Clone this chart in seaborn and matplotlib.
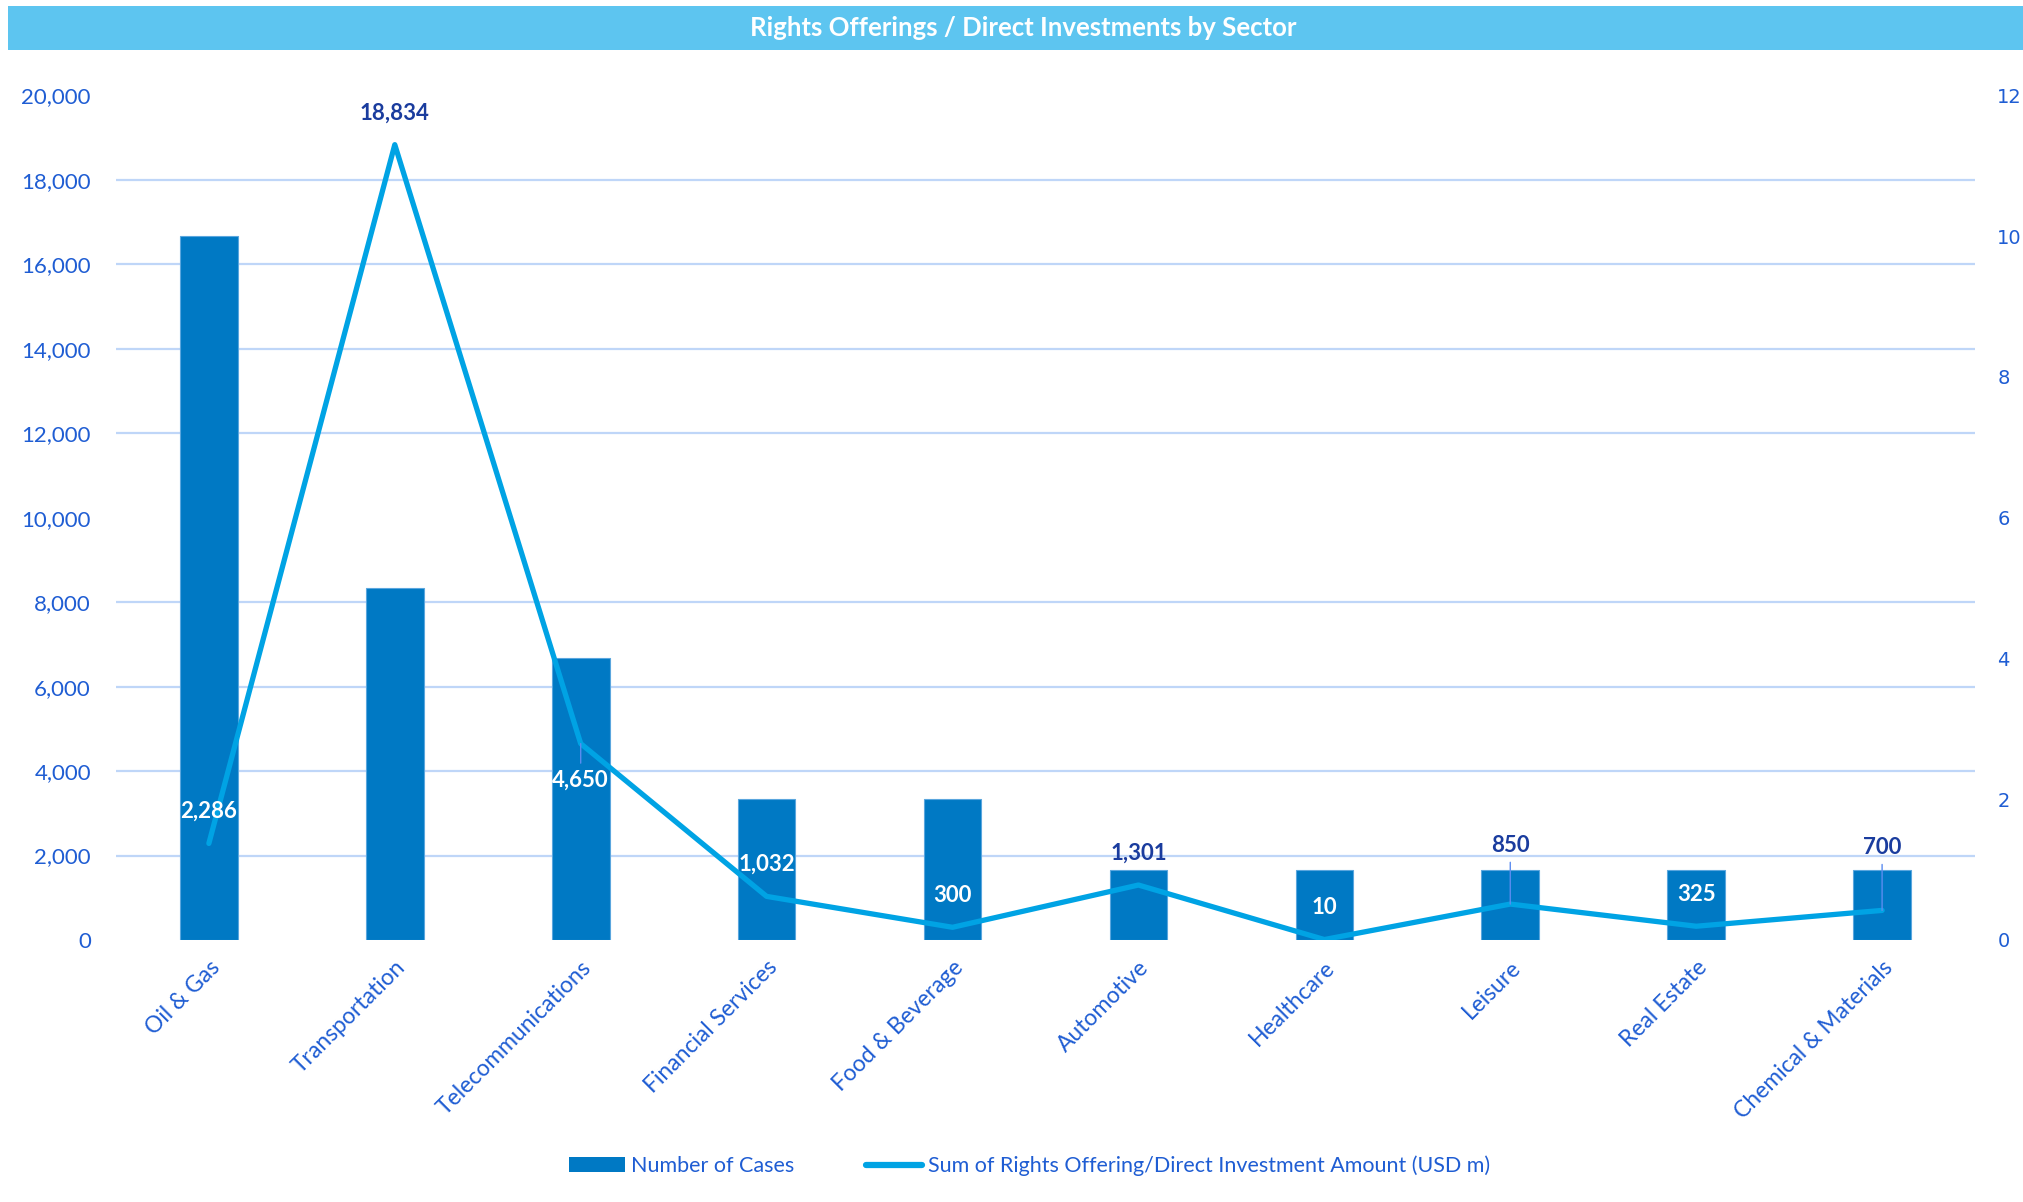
import numpy as np
import pandas as pd
import matplotlib
matplotlib.use("Agg")
import matplotlib.pyplot as plt
from matplotlib.patches import Rectangle, Patch
from matplotlib.lines import Line2D
import seaborn as sns

# ---- data -------------------------------------------------------------
sectors = ["Oil & Gas", "Transportation", "Telecommunications", "Financial Services",
           "Food & Beverage", "Automotive", "Healthcare", "Leisure", "Real Estate",
           "Chemical & Materials"]
num_cases = [10, 5, 4, 2, 2, 1, 1, 1, 1, 1]
amount_usd_m = [2286, 18834, 4650, 1032, 300, 1301, 10, 850, 325, 700]

title = "Rights Offerings / Direct Investments by Sector"
bar_label = "Number of Cases"
line_label = "Sum of Rights Offering/Direct Investment Amount (USD m)"

# ---- style ------------------------------------------------------------
BAR = "#0079C4"
LINE = "#00A3E4"
TXT = "#1F5DD3"
DARK = "#1A3C9E"
GRID = "#BFD6F8"
HEADER = "#5DC5F0"
FONT = ["Lato", "DejaVu Sans"]

sns.set_theme(style="white")
plt.rcParams["font.family"] = FONT

df = pd.DataFrame({"sector": sectors, "cases": num_cases, "amount": amount_usd_m})
pos = np.arange(len(sectors))

fig = plt.figure(figsize=(20.23, 12.02), dpi=100)
ax = fig.add_axes([0.0573, 0.218, 0.9190, 0.7026])

# bars (number of cases) on the secondary scale 0-12, shown on the right
sns.barplot(data=df, x="sector", y="cases", ax=ax, color=BAR, saturation=1,
            width=0.31, edgecolor="#5AA6DE", linewidth=0.8, zorder=3)
ax.set_ylim(0, 12)
ax.set_xlim(-0.5, len(sectors) - 0.5)
ax.set_xlabel("")
ax.set_ylabel("")
ax.set_xticks(pos)
ax.set_xticklabels(sectors, rotation=45, ha="right", rotation_mode="anchor",
                   fontsize=16.5, color=TXT)
ax.tick_params(axis="x", length=0, pad=12)
for s in ax.spines.values():
    s.set_visible(False)

# line (amount) on the primary scale 0-20,000, shown on the left
ax2 = ax.twinx()
sns.lineplot(x=pos, y=amount_usd_m, ax=ax2, color=LINE, linewidth=3.8,
             solid_joinstyle="round", solid_capstyle="round", zorder=4)
ax2.set_ylim(0, 20000)
ax2.set_yticks(np.arange(0, 20001, 2000))
ax2.yaxis.tick_left()
ax2.yaxis.set_major_formatter(matplotlib.ticker.FuncFormatter(lambda v, p: f"{v:,.0f}"))
ax2.tick_params(axis="y", length=0, labelsize=16, labelcolor=TXT, pad=18)
ax2.grid(False)
ax2.set_ylabel("")
for s in ax2.spines.values():
    s.set_visible(False)

# right-hand scale for the bars
ax.yaxis.tick_right()
ax.yaxis.set_label_position("right")
ax.set_yticks(np.arange(0, 12.1, 2))
ax.set_yticks(np.arange(0, 12.01, 1.2), minor=True)
ax.grid(False)
ax.grid(which="minor", axis="y", color=GRID, linewidth=1.6)
ax.set_axisbelow(True)
ax.tick_params(axis="y", which="both", length=0, labelsize=14, labelcolor=TXT, pad=16,
               left=False, labelleft=False, right=False, labelright=True)
for t in ax.get_yticklabels():
    t.set_family(["DejaVu Sans"])

# value labels
label_offsets = [23, 23, -26, 23, 23, 23, 23, 42, 23, 45]
label_colors = ["white", DARK, "white", "white", "white", DARK, "white", DARK, "white", DARK]
leaders = [False, False, True, False, False, False, False, True, False, True]
for x, v, dy, c, lead in zip(pos, amount_usd_m, label_offsets, label_colors, leaders):
    kw = {}
    if lead:
        kw["arrowprops"] = dict(arrowstyle="-", color="#5B8CF0", lw=1.0,
                                shrinkA=2, shrinkB=0)
    ax2.annotate(f"{v:,}", xy=(x, v), xytext=(0, dy), textcoords="offset points",
                 ha="center", va="center", fontsize=16, fontweight="bold",
                 color=c, zorder=6, **kw)

# header band
fig.patches.append(Rectangle((0.004, 0.958), 0.996, 0.037, transform=fig.transFigure,
                             facecolor=HEADER, edgecolor="none", zorder=0))
fig.text(0.506, 0.9765, title, ha="center", va="center", color="white",
         fontsize=18.5, fontweight="bold")

# legend
handles = [Patch(facecolor=BAR, edgecolor="none"),
           Line2D([0], [0], color=LINE, linewidth=4.5, solid_capstyle="round")]
fig.legend(handles, [bar_label, line_label], loc="center", bbox_to_anchor=(0.509, 0.030),
           ncol=2, frameon=False, fontsize=15.5, labelcolor=TXT, handlelength=2.6,
           handletextpad=0.3, columnspacing=3.3)

fig.savefig("out.png", dpi=100)
